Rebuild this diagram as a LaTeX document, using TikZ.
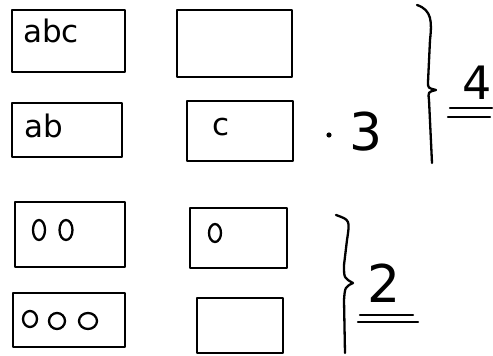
\documentclass[tikz,border=0pt]{standalone}
\usepackage{fontspec}
\setmainfont{DejaVu Sans}
\begin{document}
\begin{tikzpicture}[x=1pt,y=-1pt,line width=2.3pt,line cap=round,line join=round,
  card/.style={draw, rectangle, inner sep=0pt},
  hand/.style={font=\fontsize{31}{31}\selectfont, inner sep=0pt},
  big/.style={font=\fontsize{52}{52}\selectfont, inner sep=0pt}]
\useasboundingbox (0,0) rectangle (493,356);
% top group
\node[card, minimum width=113pt, minimum height=62pt] (A) at (68.5,41) {};
\node[card, minimum width=115pt, minimum height=67pt] (B) at (234.5,43.5) {};
\node[card, minimum width=110pt, minimum height=54pt] (C) at (67,130) {};
\node[card, minimum width=106pt, minimum height=60pt] (D) at (240,131) {};
\node[hand] (tA) at (51,31) {abc};
\node[hand] (tC) at (44,126) {ab};
\node[hand] (tD) at (221,127) {c};
\fill (329,135) circle (2.6pt);
\node[big] (three) at (366,132) {3};
\draw (417,5) .. controls (432,10) and (432,22) .. (430,40) -- (428,82)
  .. controls (428,88) .. (436,90) .. controls (428,92) .. (429,100) -- (432,163);
\node[big, font=\fontsize{46}{46}\selectfont] (four) at (477,83) {4};
\coordinate (u1a) at (450,108); \coordinate (u1b) at (492,108);
\coordinate (u2a) at (448,117); \coordinate (u2b) at (490,117);
\draw (u1a) -- (u1b);
\draw (u2a) -- (u2b);
% bottom group
\node[card, minimum width=110pt, minimum height=65pt] (E) at (70,234.5) {};
\node[card, minimum width=97pt, minimum height=60pt] (F) at (238.5,238) {};
\node[card, minimum width=112pt, minimum height=54pt] (G) at (69,320) {};
\node[card, minimum width=86pt, minimum height=55pt] (H) at (240,325.5) {};
\draw (39,230) ellipse (6pt and 10pt);
\draw (66,230) ellipse (6.5pt and 10pt);
\draw (215,233) ellipse (6pt and 9pt);
\draw (30,319) ellipse (7pt and 8pt);
\draw (57,321) ellipse (8pt and 8pt);
\draw (88,321) ellipse (9pt and 8pt);
\draw (336,215) .. controls (350,220) .. (347,240) -- (344,265)
  .. controls (344,278) .. (353,283) .. controls (345,287) .. (344,300) -- (345,353);
\node[big] (two) at (384,283) {2};
\coordinate (v1a) at (360,315); \coordinate (v1b) at (413,315);
\coordinate (v2a) at (358,322); \coordinate (v2b) at (418,322);
\draw (v1a) -- (v1b);
\draw (v2a) -- (v2b);
\end{tikzpicture}
\end{document}
